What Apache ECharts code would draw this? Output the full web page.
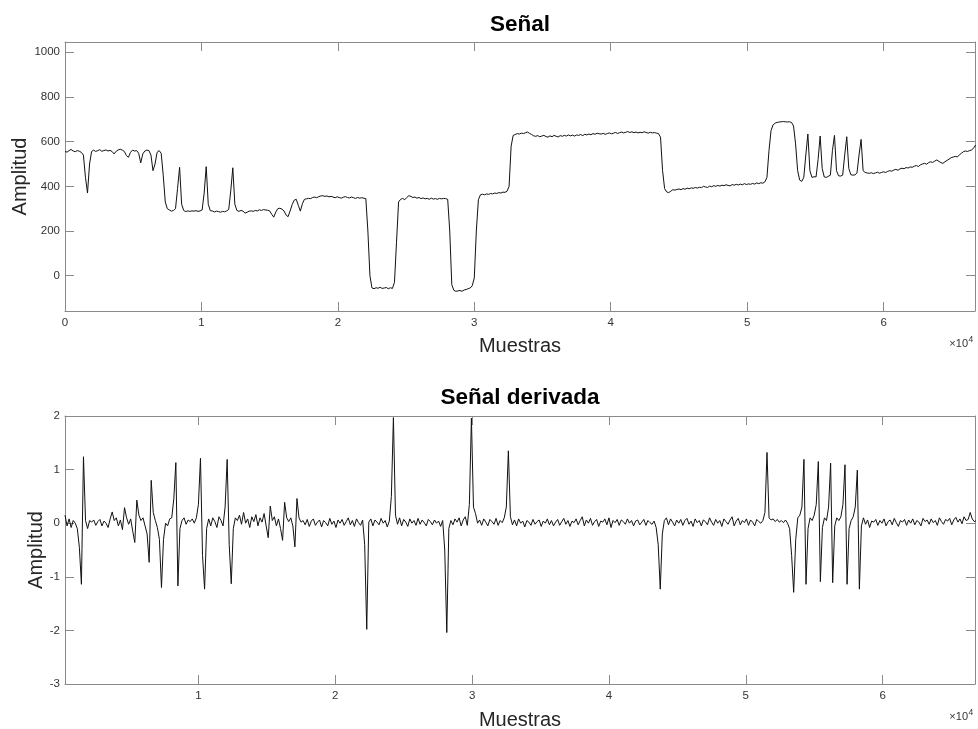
<!DOCTYPE html>
<html>
<head>
<meta charset="utf-8">
<title>Señal</title>
<script src="https://cdn.jsdelivr.net/npm/echarts@6/dist/echarts.min.js"></script>
<style>
  html, body { margin: 0; padding: 0; background: #ffffff; }
  #chart { width: 978px; height: 729px; }
</style>
</head>
<body>
<div id="chart"></div>
<script>
// Stored curves: one value every SIGNAL_STEP / DERIV_STEP samples
const SIGNAL_STEP = 150;
const DERIV_START = 250;
const DERIV_STEP = 150;

// Raw signal amplitude
const signalValues = [
  556, 553, 560, 565, 558, 555, 560, 557, 552, 540,
  440, 370, 500, 556, 562, 556, 560, 564, 557, 560,
  563, 558, 561, 556, 545, 557, 563, 566, 562, 556,
  538, 530, 552, 562, 558, 560, 548, 505, 545, 558,
  562, 560, 540, 470, 500, 552, 560, 548, 450, 330,
  300, 294, 289, 292, 300, 390, 485, 320, 292, 287,
  290, 288, 290, 289, 291, 288, 290, 294, 370, 488,
  320, 291, 290, 285, 289, 287, 284, 288, 286, 290,
  296, 380, 483, 320, 292, 288, 292, 289, 280, 284,
  289, 290, 288, 292, 290, 295, 292, 296, 294, 293,
  290, 275, 262, 285, 300, 302, 298, 290, 272, 264,
  290, 318, 338, 342, 315, 289, 322, 342, 344, 346,
  345, 350, 352, 349, 354, 357, 358, 355, 357, 353,
  355, 352, 349, 353, 350, 347, 351, 354, 350, 348,
  352, 349, 346, 350, 347, 349, 347, 345, 200, 0,
  -55, -58, -54, -56, -52, -57, -55, -53, -58, -54,
  -57, -30, 150, 330, 342, 346, 340, 350, 358, 355,
  350, 352, 347, 350, 345, 348, 344, 346, 342, 347,
  343, 345, 342, 346, 344, 346, 345, 342, 200, -40,
  -65, -70, -68, -66, -70, -64, -62, -58, -55, -45,
  -10, 200, 340, 362, 365, 362, 366, 364, 368, 366,
  370, 368, 372, 370, 374, 373, 378, 400, 580, 628,
  632, 636, 634, 638, 636, 640, 643, 637, 632, 626,
  624, 627, 622, 625, 628, 623, 620, 626, 622, 628,
  624, 621, 627, 624, 628, 625, 630, 626, 629, 625,
  630, 628, 632, 627, 633, 630, 634, 631, 636, 633,
  638, 635, 634, 637, 633, 636, 639, 635, 638, 641,
  637, 640, 643, 639, 642, 645, 641, 644, 640, 643,
  639, 642, 640, 644, 641, 638, 642, 639, 641, 638,
  636, 620, 470, 390, 375, 372, 378, 385, 383, 386,
  388, 385, 390, 387, 392, 389, 393, 391, 395, 392,
  396, 394, 400, 397, 395, 401, 398, 403, 400, 404,
  401, 405, 403, 407, 404, 402, 408, 405, 409, 406,
  410, 407, 412, 408, 411, 409, 413, 410, 415, 412,
  416, 414, 420, 440, 560, 650, 675, 683, 686, 688,
  689, 690, 689, 688, 689, 686, 670, 590, 470, 428,
  422, 440, 540, 634, 470, 440, 443, 442, 520, 625,
  480, 442, 440, 445, 450, 560, 628, 470, 447, 446,
  450, 540, 622, 480, 452, 450, 451, 460, 540, 610,
  470, 462, 460, 458, 461, 457, 460, 463, 459, 462,
  465, 462, 467, 470, 468, 473, 476, 472, 478, 481,
  479, 484, 482, 487, 485, 490, 493, 489, 496, 500,
  503, 499, 506, 510, 507, 513, 518, 512, 506, 503,
  510, 516, 522, 528, 531, 534, 532, 540, 548, 555,
  558, 556, 560, 562, 572, 585
];

// Derivative of the signal
const derivValues = [
  0.15, -0.05, 0.08, -0.08, 0.05, 0.00, -0.10, -0.45, -1.14, 1.24,
  0.05, -0.10, 0.05, 0.02, 0.06, -0.04, 0.03, 0.07, -0.05, 0.04,
  0.00, -0.08, 0.08, 0.21, 0.05, 0.10, -0.05, 0.06, -0.12, 0.29,
  0.10, -0.02, 0.08, -0.15, -0.36, 0.43, 0.15, 0.05, 0.10, -0.05,
  -0.20, -0.73, 0.80, 0.20, 0.05, -0.08, -0.30, -1.20, -0.30, 0.00,
  -0.05, 0.08, 0.10, 0.45, 1.13, -1.17, -0.10, 0.05, 0.10, -0.02,
  0.06, 0.03, 0.08, 0.00, 0.10, 0.35, 1.21, -0.60, -1.23, -0.10,
  0.08, -0.05, 0.10, 0.03, -0.08, 0.12, 0.05, -0.05, 0.30, 1.19,
  -0.40, -1.13, -0.10, 0.10, 0.05, 0.15, -0.02, 0.20, 0.00, 0.08,
  -0.08, 0.12, 0.03, 0.16, -0.05, 0.10, 0.02, 0.18, -0.05, -0.27,
  0.32, 0.05, 0.12, -0.05, 0.08, -0.10, -0.32, 0.39, 0.10, 0.03,
  0.10, -0.05, -0.44, 0.46, 0.10, 0.02, 0.05, -0.03, 0.07, -0.06,
  0.04, 0.08, -0.04, 0.02, 0.06, -0.07, 0.05, 0.01, -0.05, 0.09,
  -0.02, 0.04, -0.08, 0.06, 0.00, 0.07, -0.04, 0.03, 0.10, -0.03,
  0.05, -0.06, 0.08, 0.01, -0.04, 0.06, -0.40, -1.98, 0.02, 0.08,
  -0.05, 0.06, 0.02, -0.03, 0.09, 0.00, 0.05, -0.07, 0.04, 0.50,
  1.97, 0.15, -0.02, 0.10, -0.05, 0.07, 0.02, -0.06, 0.08, 0.00,
  0.05, -0.04, 0.09, -0.02, 0.06, 0.01, -0.05, 0.07, 0.03, -0.03,
  0.06, 0.00, 0.04, -0.06, 0.05, -0.50, -2.04, -0.10, 0.05, -0.03,
  0.08, 0.02, 0.10, -0.05, 0.06, 0.12, -0.04, 0.35, 1.96, 0.30,
  0.18, 0.00, 0.06, -0.04, 0.08, 0.02, -0.05, 0.07, 0.03, -0.02,
  0.09, -0.04, 0.05, 0.01, 0.10, 0.30, 1.35, 0.12, -0.03, 0.06,
  -0.05, 0.08, 0.00, 0.04, -0.07, 0.05, 0.02, -0.04, 0.07, -0.02,
  0.03, 0.06, -0.06, 0.04, 0.00, 0.08, -0.03, 0.05, -0.05, 0.02,
  0.07, -0.04, 0.03, 0.09, -0.02, 0.05, -0.06, 0.04, 0.01, 0.08,
  -0.03, 0.05, 0.12, -0.05, 0.06, 0.00, 0.09, -0.04, 0.03, 0.07,
  -0.06, 0.04, 0.02, 0.08, -0.03, 0.10, -0.08, 0.05, 0.01, 0.07,
  -0.04, 0.06, 0.03, -0.02, 0.08, 0.00, 0.05, -0.05, 0.04, 0.06,
  -0.03, 0.02, 0.07, -0.04, 0.05, 0.01, -0.02, 0.04, -0.08, -0.40,
  -1.23, -0.20, 0.05, 0.10, -0.03, 0.08, 0.02, -0.05, 0.06, 0.00,
  0.07, -0.04, 0.05, 0.09, -0.02, 0.04, -0.06, 0.08, 0.01, 0.05,
  -0.05, 0.06, 0.03, -0.03, 0.10, 0.02, -0.04, 0.07, 0.00, 0.05,
  -0.06, 0.08, 0.03, -0.02, 0.06, 0.12, -0.05, 0.04, 0.09, -0.03,
  0.05, 0.01, 0.08, -0.04, 0.06, 0.02, -0.05, 0.07, 0.03, 0.00,
  0.05, 0.20, 1.32, 0.10, 0.06, 0.08, 0.03, 0.07, 0.02, 0.05,
  0.01, 0.06, 0.00, -0.10, -0.60, -1.29, -0.30, 0.10, 0.15, 0.30,
  1.19, -1.14, -0.10, 0.10, 0.05, 0.15, 0.35, 1.15, -1.09, -0.08,
  0.10, 0.05, 0.30, 1.12, -1.11, -0.05, 0.10, 0.05, 0.12, 0.35,
  1.09, -1.14, -0.10, 0.05, 0.12, 0.30, 0.99, -1.23, -0.05, 0.10,
  -0.02, 0.06, -0.08, 0.04, 0.02, 0.07, -0.04, 0.05, 0.00, 0.08,
  -0.05, 0.03, 0.06, -0.03, 0.09, 0.01, -0.06, 0.05, 0.02, 0.07,
  -0.04, 0.06, 0.00, 0.08, -0.03, 0.05, 0.02, -0.05, 0.09, 0.03,
  0.06, -0.02, 0.08, 0.01, 0.05, -0.04, 0.10, 0.03, -0.02, 0.07,
  0.04, 0.09, -0.03, 0.06, 0.11, 0.02, 0.08, -0.01, 0.12, 0.05,
  0.07, 0.20, 0.08, 0.03, 0.05
];

// Axis ranges and tick positions
const signalXRange = [0, 66700];
const derivXRange = [250, 66750];
const signalYRange = [-158, 1046];
const derivYRange = [-3, 2];
const signalXTicks = [0, 10000, 20000, 30000, 40000, 50000, 60000];
const derivXTicks = [10000, 20000, 30000, 40000, 50000, 60000];
const signalYTicks = [0, 200, 400, 600, 800, 1000];
const derivYTicks = [-3, -2, -1, 0, 1, 2];

const titles = ['Señal', 'Señal derivada'];
const xName = 'Muestras';
const yName = 'Amplitud';

const signalData = signalValues.map((v, i) => [i * SIGNAL_STEP, v]);
const derivData = derivValues.map((v, i) => [DERIV_START + i * DERIV_STEP, v]);

const FONT = '"Liberation Sans", Arial, Helvetica, sans-serif';
const AXIS_GRAY = '#8a8a8a';
const LABEL_GRAY = '#333333';

function boxLine() {
  return { show: true, onZero: false, lineStyle: { color: AXIS_GRAY, width: 1 } };
}

function xAxisPair(gridIndex, range, ticks, nameGap) {
  const tickStyle = { show: true, inside: true, length: 9, lineStyle: { color: AXIS_GRAY, width: 1 }, customValues: ticks };
  return [
    {
      type: 'value', gridIndex, position: 'bottom', min: range[0], max: range[1],
      axisLine: boxLine(),
      axisTick: tickStyle,
      axisLabel: {
        show: true, customValues: ticks, margin: 6, color: LABEL_GRAY,
        fontFamily: FONT, fontSize: 11.5, formatter: v => String(v / 10000)
      },
      splitLine: { show: false },
      name: xName, nameLocation: 'middle', nameGap, nameMoveOverlap: false,
      nameTextStyle: { fontFamily: FONT, fontSize: 20, color: '#262626' }
    },
    {
      type: 'value', gridIndex, position: 'top', min: range[0], max: range[1],
      axisLine: boxLine(),
      axisTick: tickStyle,
      axisLabel: { show: false },
      splitLine: { show: false }
    }
  ];
}

function yAxisPair(gridIndex, range, ticks, nameGap) {
  const tickStyle = { show: true, inside: true, length: 9, lineStyle: { color: AXIS_GRAY, width: 1 }, customValues: ticks };
  return [
    {
      type: 'value', gridIndex, position: 'left', min: range[0], max: range[1],
      axisLine: boxLine(),
      axisTick: tickStyle,
      axisLabel: {
        show: true, customValues: ticks, margin: 5, color: LABEL_GRAY,
        fontFamily: FONT, fontSize: 11.5, formatter: v => String(v)
      },
      splitLine: { show: false },
      name: yName, nameLocation: 'middle', nameGap, nameMoveOverlap: false,
      nameTextStyle: { fontFamily: FONT, fontSize: 20, color: '#262626' }
    },
    {
      type: 'value', gridIndex, position: 'right', min: range[0], max: range[1],
      axisLine: boxLine(),
      axisTick: tickStyle,
      axisLabel: { show: false },
      splitLine: { show: false }
    }
  ];
}

function exponentMark(yBase) {
  return [
    {
      type: 'text', x: 968, y: yBase,
      style: { text: '×10', font: '11px ' + FONT, fill: LABEL_GRAY, align: 'right', verticalAlign: 'middle' }
    },
    {
      type: 'text', x: 968.5, y: yBase - 4,
      style: { text: '4', font: '8.5px ' + FONT, fill: LABEL_GRAY, align: 'left', verticalAlign: 'middle' }
    }
  ];
}

const chart = echarts.init(document.getElementById('chart'), null, { renderer: 'canvas' });

chart.setOption({
  animation: false,
  backgroundColor: '#ffffff',
  grid: [
    { left: 65, right: 3, top: 42, height: 269, containLabel: false, outerBoundsMode: 'none' },
    { left: 65, right: 3, top: 416, height: 268, containLabel: false, outerBoundsMode: 'none' }
  ],
  xAxis: [
    ...xAxisPair(0, signalXRange, signalXTicks, 25),
    ...xAxisPair(1, derivXRange, derivXTicks, 26)
  ],
  yAxis: [
    ...yAxisPair(0, signalYRange, signalYTicks, 35),
    ...yAxisPair(1, derivYRange, derivYTicks, 19)
  ],
  graphic: [
    {
      type: 'text', x: 520, y: 25,
      style: { text: titles[0], font: 'bold 22.5px ' + FONT, fill: '#000000', align: 'center', verticalAlign: 'middle' }
    },
    {
      type: 'text', x: 520, y: 398,
      style: { text: titles[1], font: 'bold 22.5px ' + FONT, fill: '#000000', align: 'center', verticalAlign: 'middle' }
    },
    ...exponentMark(343.5),
    ...exponentMark(717)
  ],
  series: [
    {
      name: titles[0], type: 'line', xAxisIndex: 0, yAxisIndex: 0,
      data: signalData, showSymbol: false, symbol: 'none', clip: true,
      lineStyle: { color: '#111111', width: 1 }
    },
    {
      name: titles[1], type: 'line', xAxisIndex: 2, yAxisIndex: 2,
      data: derivData, showSymbol: false, symbol: 'none', clip: true,
      lineStyle: { color: '#111111', width: 1 }
    }
  ]
});
</script>
</body>
</html>
